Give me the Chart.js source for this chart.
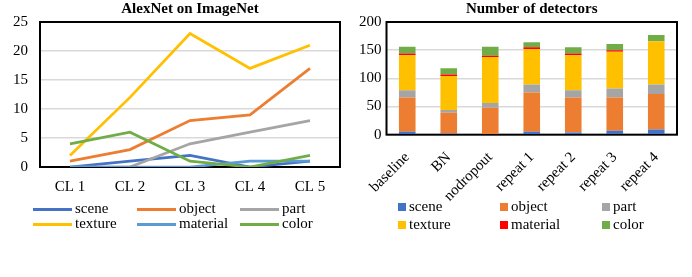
<!DOCTYPE html>
<html><head><meta charset="utf-8">
<script src="https://cdn.jsdelivr.net/npm/chart.js@4"></script>
<style>
body{margin:0;width:692px;height:277px;position:relative;background:#fff;overflow:hidden;font-family:"Liberation Serif","Times New Roman",serif;}
.box{position:absolute;top:0}
.leg{position:absolute;font-size:15px;line-height:15px;color:#000;white-space:nowrap}
.leg span{position:absolute}
</style></head>
<body>
<div class="box" style="left:0"><canvas id="c1" width="346" height="207"></canvas></div>
<div class="box" style="left:346px"><canvas id="c2" width="346" height="219"></canvas></div>
<div id="leg1" class="leg" style="left:0;top:0"></div>
<div id="leg2" class="leg" style="left:346px;top:0"></div>
<script>
// ---- Data: left chart (AlexNet on ImageNet) ----
const lineCats = ["CL 1","CL 2","CL 3","CL 4","CL 5"];
const lineScene    = [0, 1, 2, 0, 1];
const lineObject   = [1, 3, 8, 9, 17];
const linePart     = [0, 0, 4, 6, 8];
const lineTexture  = [2, 12, 23, 17, 21];
const lineMaterial = [0, 0, 0, 1, 1];
const lineColor    = [4, 6, 1, 0, 2];
const lineTicksY   = [0, 5, 10, 15, 20, 25];

// ---- Data: right chart (Number of detectors) ----
const barCats = ["baseline","BN","nodropout","repeat 1","repeat 2","repeat 3","repeat 4"];
const barScene    = [5, 2, 0, 5, 4, 7, 9];
const barObject   = [61, 37, 48, 70, 62, 59, 63];
const barPart     = [13, 5, 8, 14, 13, 16, 17];
const barTexture  = [62, 60, 82, 63, 62, 65, 77];
const barMaterial = [3, 3, 2, 3, 3, 3, 0];
const barColor    = [12, 11, 16, 9, 11, 11, 11];
const barTicksY   = [0, 50, 100, 150, 200];

const seriesNames = ["scene","object","part","texture","material","color"];
const lineColors = ["#4472C4","#ED7D31","#A5A5A5","#FFC000","#5B9BD5","#70AD47"];
const barColors  = ["#4472C4","#ED7D31","#A5A5A5","#FFC000","#FF0000","#70AD47"];

const FONT = "'Liberation Serif', 'Times New Roman', serif";
Chart.defaults.font.family = FONT;
Chart.defaults.color = "#000";

const borderPlugin = {
  id: 'plotBorder',
  beforeDatasetsDraw(chart) {
    const a = chart.chartArea, ctx = chart.ctx;
    ctx.save();
    ctx.strokeStyle = '#000';
    ctx.lineWidth = 2;
    ctx.strokeRect(a.left, a.top, a.right - a.left, a.bottom - a.top);
    ctx.restore();
  }
};

const lineData = [lineScene, lineObject, linePart, lineTexture, lineMaterial, lineColor];
new Chart(document.getElementById('c1'), {
  type: 'line',
  data: {
    labels: lineCats,
    datasets: lineData.map((d, i) => ({
      label: seriesNames[i], data: d,
      borderColor: lineColors[i], backgroundColor: lineColors[i],
      borderWidth: 2.75, pointRadius: 0, tension: 0, fill: false,
      order: 6 - i
    }))
  },
  options: {
    responsive: false, animation: false, devicePixelRatio: 1,
    layout: { padding: { left: 1, right: 6, top: 0, bottom: 0 } },
    plugins: {
      legend: { display: false },
      tooltip: { enabled: false },
      title: { display: true, text: 'AlexNet on ImageNet', fullSize: false,
        font: { size: 15, weight: 'bold', family: FONT }, color: '#000',
        padding: { top: 0, bottom: 4 } }
    },
    scales: {
      x: { offset: true, grid: { display: false, drawTicks: false }, border: { display: false },
        ticks: { font: { size: 15 }, padding: 11, color: '#000' } },
      y: { min: 0, max: 25,
        afterBuildTicks: (ax) => { ax.ticks = lineTicksY.map(v => ({ value: v })); },
        grid: { color: '#D9D9D9', lineWidth: 1.5, drawTicks: false }, border: { display: false },
        ticks: { font: { size: 15 }, padding: 12, color: '#000' } }
    }
  },
  plugins: [borderPlugin]
});

const barData = [barScene, barObject, barPart, barTexture, barMaterial, barColor];
new Chart(document.getElementById('c2'), {
  type: 'bar',
  data: {
    labels: barCats,
    datasets: barData.map((d, i) => ({
      label: seriesNames[i], data: d,
      backgroundColor: barColors[i], borderWidth: 0,
      barPercentage: 0.4, categoryPercentage: 1.0, stack: 's'
    }))
  },
  options: {
    responsive: false, animation: false, devicePixelRatio: 1,
    layout: { padding: { left: 8, right: 15, top: 0, bottom: 0 } },
    plugins: {
      legend: { display: false },
      tooltip: { enabled: false },
      title: { display: true, text: 'Number of detectors', fullSize: false,
        font: { size: 15, weight: 'bold', family: FONT }, color: '#000',
        padding: { top: 0, bottom: 4 } }
    },
    scales: {
      x: { stacked: true, grid: { display: false, drawTicks: false }, border: { display: false },
        ticks: { font: { size: 15 }, padding: 14, maxRotation: 45, minRotation: 45, color: '#000', autoSkip: false } },
      y: { stacked: true, min: 0, max: 200,
        afterBuildTicks: (ax) => { ax.ticks = barTicksY.map(v => ({ value: v })); },
        grid: { color: '#D9D9D9', lineWidth: 1.5, drawTicks: false }, border: { display: false },
        ticks: { font: { size: 15 }, padding: 5, color: '#000' } }
    }
  },
  plugins: [borderPlugin]
});

// ---- HTML legends built from series arrays ----
function buildLegend(el, colors, kind, colX, rowY, textOff) {
  let html = '';
  seriesNames.forEach((n, i) => {
    const c = i % 3, r = Math.floor(i / 3);
    const x = colX[c], y = rowY[r];
    if (kind === 'line') {
      html += `<span style="left:${x}px;top:${y - 1.5}px;width:39px;height:3px;background:${colors[i]}"></span>`;
    } else {
      html += `<span style="left:${x}px;top:${y - 4}px;width:8px;height:8px;background:${colors[i]}"></span>`;
    }
    html += `<span style="left:${x + textOff}px;top:${y - 8}px">${n}</span>`;
  });
  el.innerHTML = html;
}
buildLegend(document.getElementById('leg1'), lineColors, 'line', [33, 137, 240], [209, 224], 42);
buildLegend(document.getElementById('leg2'), barColors, 'bar', [52, 154, 256], [207, 225], 11);
</script>
</body></html>
